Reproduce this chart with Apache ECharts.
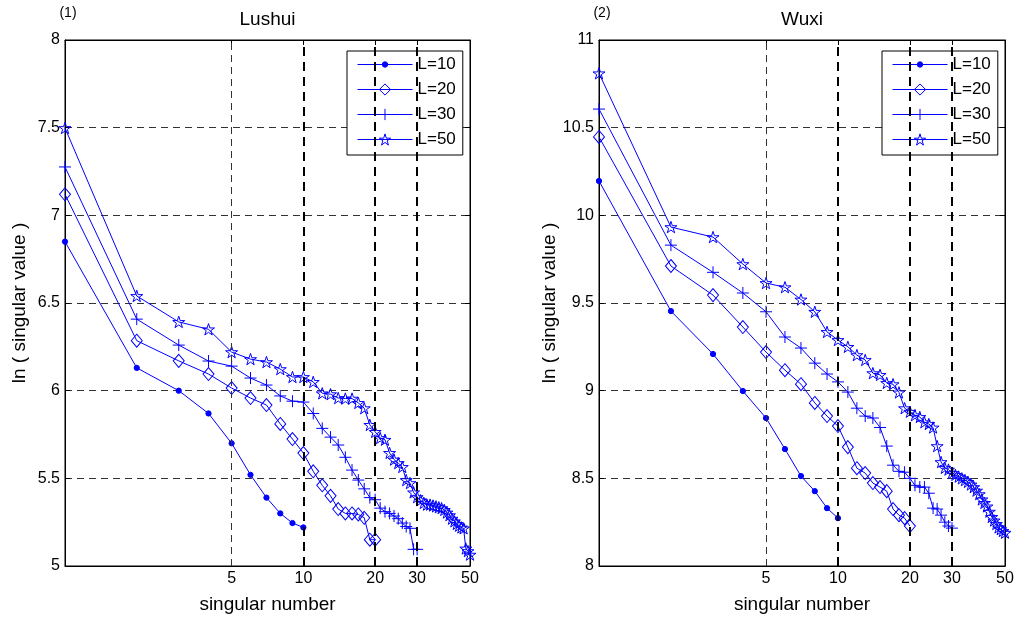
<!DOCTYPE html>
<html><head><meta charset="utf-8">
<script src="https://cdn.jsdelivr.net/npm/echarts@6/dist/echarts.min.js"></script>
<style>html,body{margin:0;padding:0;background:#fff}#c{width:1021px;height:624px}</style>
</head><body><div id="c"></div>
<script>
// ---- data ----
const seriesNames = ['L=10', 'L=20', 'L=30', 'L=50'];
const panelTitles = ['Lushui', 'Wuxi'];
const panelTags = ['(1)', '(2)'];
const xTickValues = [5, 10, 20, 30, 50];
const xRange = [1, 50];
const yRangeLushui = [5, 8];
const yRangeWuxi = [8, 11];
const yStep = 0.5;
const xName = 'singular number';
const yName = 'ln ( singular value )';

const lushuiL10 = [6.85, 6.13, 6.00, 5.87, 5.70, 5.52, 5.39, 5.30, 5.245, 5.22];
const lushuiL20 = [7.12, 6.285, 6.17, 6.095, 6.015, 5.958, 5.918, 5.81, 5.724, 5.644, 5.54, 5.46, 5.40, 5.325, 5.30, 5.30, 5.294, 5.275, 5.15, 5.15];
const lushuiL30 = [7.276, 6.408, 6.26, 6.169, 6.14, 6.072, 6.032, 5.97, 5.94, 5.935, 5.87, 5.785, 5.735, 5.69, 5.62, 5.547, 5.49, 5.44, 5.39, 5.378, 5.33, 5.31, 5.30, 5.285, 5.27, 5.245, 5.225, 5.215, 5.095, 5.095];
const lushuiL50 = [7.498, 6.54, 6.392, 6.35, 6.22, 6.18, 6.163, 6.123, 6.078, 6.078, 6.05, 5.985, 5.98, 5.958, 5.955, 5.955, 5.93, 5.90, 5.805, 5.765, 5.73, 5.72, 5.645, 5.607, 5.587, 5.565, 5.49, 5.473, 5.42, 5.393, 5.375, 5.36, 5.35, 5.35, 5.345, 5.34, 5.335, 5.33, 5.32, 5.305, 5.29, 5.27, 5.255, 5.24, 5.23, 5.22, 5.215, 5.10, 5.085, 5.065];

const wuxiL10 = [10.196, 9.454, 9.209, 8.998, 8.844, 8.667, 8.513, 8.427, 8.33, 8.273];
const wuxiL20 = [10.447, 9.711, 9.545, 9.363, 9.22, 9.117, 9.037, 8.93, 8.855, 8.798, 8.678, 8.558, 8.53, 8.473, 8.45, 8.427, 8.325, 8.29, 8.273, 8.228];
const wuxiL30 = [10.606, 9.83, 9.675, 9.557, 9.45, 9.306, 9.243, 9.157, 9.095, 9.05, 8.992, 8.90, 8.855, 8.844, 8.79, 8.684, 8.575, 8.54, 8.535, 8.5, 8.46, 8.45, 8.45, 8.415, 8.33, 8.325, 8.29, 8.25, 8.228, 8.216];
const wuxiL50 = [10.81, 9.933, 9.876, 9.722, 9.614, 9.59, 9.52, 9.45, 9.335, 9.289, 9.25, 9.203, 9.175, 9.10, 9.09, 9.044, 9.037, 8.99, 8.90, 8.88, 8.86, 8.85, 8.82, 8.81, 8.79, 8.684, 8.593, 8.56, 8.55, 8.53, 8.52, 8.51, 8.50, 8.49, 8.48, 8.465, 8.45, 8.43, 8.41, 8.38, 8.36, 8.34, 8.31, 8.28, 8.26, 8.24, 8.22, 8.21, 8.20, 8.19];

// vertical reference lines: [x value, bold?]
const refLines = [[5, false], [10, true], [20, true], [30, true]];

// ---- styling ----
const FONT = 'Liberation Sans, Arial, sans-serif';
const BLUE = '#0000ff';
const grids = [
  { left: 65, top: 40, width: 405, height: 526 },
  { left: 599, top: 40, width: 406, height: 526 }
];
const markers = [
  { symbol: 'path://M0,0M10,10M5,2.6A2.4,2.4,0,1,1,4.99,2.6Z', size: 11, fill: BLUE },
  { symbol: 'diamond', size: [11, 13], fill: 'none' },
  { symbol: 'path://M0,5L10,5M5,0L5,10', size: 12, fill: 'none' },
  { symbol: 'path://M0,-10L2.245,-3.09L9.511,-3.09L3.633,1.18L5.878,8.09L0,3.82L-5.878,8.09L-3.633,1.18L-9.511,-3.09L-2.245,-3.09Z', size: 12, fill: 'none' }
];

const panelData = [
  [lushuiL10, lushuiL20, lushuiL30, lushuiL50],
  [wuxiL10, wuxiL20, wuxiL30, wuxiL50]
];
const yRanges = [yRangeLushui, yRangeWuxi];

const xAxes = [], yAxes = [], series = [], legends = [], graphics = [];

for (let p = 0; p < 2; p++) {
  // bottom x axis
  xAxes.push({
    type: 'log', logBase: 10, gridIndex: p, min: xRange[0], max: xRange[1],
    name: xName, nameLocation: 'middle', nameGap: 29,
    nameTextStyle: { fontFamily: FONT, fontSize: 19, color: '#000' },
    axisLine: { show: true, lineStyle: { color: '#000', width: 1 } },
    axisTick: { show: true, inside: true, length: 5, customValues: xTickValues, lineStyle: { color: '#000' } },
    axisLabel: { show: true, customValues: xTickValues, margin: 5, fontFamily: FONT, fontSize: 16, color: '#000' },
    minorTick: { show: false }, splitLine: { show: false }
  });
  yAxes.push({
    type: 'value', gridIndex: p, min: yRanges[p][0], max: yRanges[p][1], interval: yStep,
    name: yName, nameLocation: 'middle', nameGap: 36, nameRotate: 90,
    nameTextStyle: { fontFamily: FONT, fontSize: 19, color: '#000' },
    axisLine: { show: true, lineStyle: { color: '#000', width: 1 } },
    axisTick: { show: true, inside: true, length: 5, lineStyle: { color: '#000' } },
    axisLabel: { margin: 5, fontFamily: FONT, fontSize: 16, color: '#000' },
    splitLine: { show: true, lineStyle: { color: '#333', width: 1, type: [7, 5] } }
  });
}
for (let p = 0; p < 2; p++) {
  // mirrored top / right axes (ticks only)
  xAxes.push({
    type: 'log', logBase: 10, gridIndex: p, position: 'top', min: xRange[0], max: xRange[1],
    axisLine: { show: true, lineStyle: { color: '#000', width: 1 } },
    axisTick: { show: true, inside: true, length: 5, customValues: xTickValues, lineStyle: { color: '#000' } },
    axisLabel: { show: false }, minorTick: { show: false }, splitLine: { show: false }
  });
  yAxes.push({
    type: 'value', gridIndex: p, position: 'right', min: yRanges[p][0], max: yRanges[p][1], interval: yStep,
    axisLine: { show: true, lineStyle: { color: '#000', width: 1 } },
    axisTick: { show: true, inside: true, length: 5, lineStyle: { color: '#000' } },
    axisLabel: { show: false }, splitLine: { show: false }
  });
}

for (let p = 0; p < 2; p++) {
  panelData[p].forEach((vals, s) => {
    const m = markers[s];
    const ser = {
      type: 'line', name: seriesNames[s], xAxisIndex: p, yAxisIndex: p,
      data: vals.map((v, i) => [i + 1, v]),
      symbol: m.symbol, symbolSize: m.size, symbolKeepAspect: true, showAllSymbol: true,
      itemStyle: { color: m.fill, borderColor: BLUE, borderWidth: 1 },
      lineStyle: { color: BLUE, width: 1 },
      emphasis: { disabled: true }, animation: false, z: 3
    };
    if (s === 0) {
      ser.markLine = {
        silent: true, symbol: 'none', label: { show: false }, animation: false,
        data: refLines.map(([x, bold]) => ({
          xAxis: x,
          lineStyle: bold ? { color: '#000', width: 2, type: [9, 6] } : { color: '#333', width: 1, type: [7, 5] }
        }))
      };
    }
    series.push(ser);
  });
  const g = grids[p];
  legends.push({
    orient: 'vertical', left: g.left + g.width - 123, top: 51,
    data: seriesNames.slice(),
    itemWidth: 55, itemHeight: 14, itemGap: 8,
    padding: [5, 7, 7, 10],
    backgroundColor: '#fff', borderColor: '#000', borderWidth: 1, borderRadius: 0,
    textStyle: { fontFamily: FONT, fontSize: 17, color: '#000', lineHeight: 17 },
    itemStyle: { borderWidth: 1 }, lineStyle: { width: 1 },
    selectedMode: false
  });
  graphics.push({
    type: 'text', x: g.left + g.width / 2, y: 20,
    style: { text: panelTitles[p], textAlign: 'center', textVerticalAlign: 'middle', font: '19px ' + FONT, fill: '#000' }
  });
  graphics.push({
    type: 'text', x: g.left + 3, y: 13,
    style: { text: panelTags[p], textAlign: 'center', textVerticalAlign: 'middle', font: '14px ' + FONT, fill: '#000' }
  });
}

const chart = echarts.init(document.getElementById('c'), null, { renderer: 'canvas' });
chart.setOption({
  backgroundColor: '#fff',
  animation: false,
  grid: grids.map(g => Object.assign({ show: true, borderColor: '#000', borderWidth: 1, backgroundColor: 'transparent', containLabel: false }, g)),
  xAxis: xAxes, yAxis: yAxes, series: series, legend: legends, graphic: graphics
});
</script></body></html>
